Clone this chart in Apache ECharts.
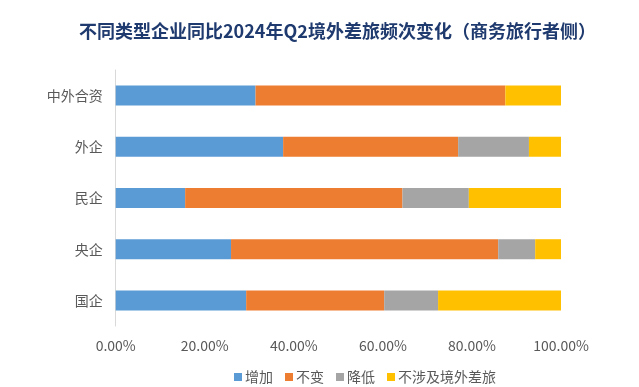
<!DOCTYPE html>
<html>
<head>
<meta charset="utf-8">
<script src="https://cdn.jsdelivr.net/npm/echarts@6/dist/echarts.min.js"></script>
<style>html,body{margin:0;padding:0;background:#fff;}#c{width:639px;height:387px;}</style>
</head>
<body>
<div id="c"></div>
<script>
const categories = ['国企', '央企', '民企', '外企', '中外合资'];
const seriesNames = ['增加', '不变', '降低', '不涉及境外差旅'];
const increase = [29.3, 25.9, 15.6, 37.6, 31.4];
const unchanged = [31.0, 60.0, 48.8, 39.3, 56.1];
const decrease = [12.1, 8.3, 14.9, 15.9, 0];
const noTravel = [27.6, 5.8, 20.7, 7.2, 12.5];
const xTicks = [0, 20, 40, 60, 80, 100];
const colors = ['#5B9BD5', '#ED7D31', '#A5A5A5', '#FFC000'];
const values = [increase, unchanged, decrease, noTravel];

const font = '"Noto Sans CJK SC", "Noto Sans", sans-serif';
const chart = echarts.init(document.getElementById('c'));
chart.setOption({
  animation: false,
  textStyle: { fontFamily: font },
  title: {
    text: '不同类型企业同比2024年Q2境外差旅频次变化（商务旅行者侧）',
    left: 74,
    top: 17,
    textStyle: { color: '#1F3A6E', fontSize: 18, fontWeight: 'bold', fontFamily: font }
  },
  legend: {
    data: seriesNames,
    left: 229,
    top: 365,
    itemWidth: 8,
    itemHeight: 8,
    itemGap: 12,
    icon: 'rect',
    textStyle: { color: '#595959', fontSize: 14, fontFamily: font, padding: [0, 0, 0, -2] }
  },
  grid: { left: 115.7, right: 78, top: 70, bottom: 61, containLabel: false },
  xAxis: {
    type: 'value',
    min: xTicks[0],
    max: xTicks[xTicks.length - 1],
    interval: 20,
    axisLine: { show: false },
    axisTick: { show: false },
    splitLine: { show: false },
    axisLabel: {
      color: '#595959',
      fontSize: 14,
      margin: 13,
      fontFamily: font,
      formatter: v => v.toFixed(2) + '%'
    }
  },
  yAxis: {
    type: 'category',
    data: categories,
    axisLine: { show: true, lineStyle: { color: '#D9D9D9' } },
    axisTick: { show: false },
    axisLabel: { color: '#595959', fontSize: 14, margin: 13, fontFamily: font }
  },
  series: seriesNames.map((n, i) => ({
    name: n,
    type: 'bar',
    stack: 'total',
    barWidth: 20,
    itemStyle: { color: colors[i] },
    data: values[i]
  }))
});
</script>
</body>
</html>
